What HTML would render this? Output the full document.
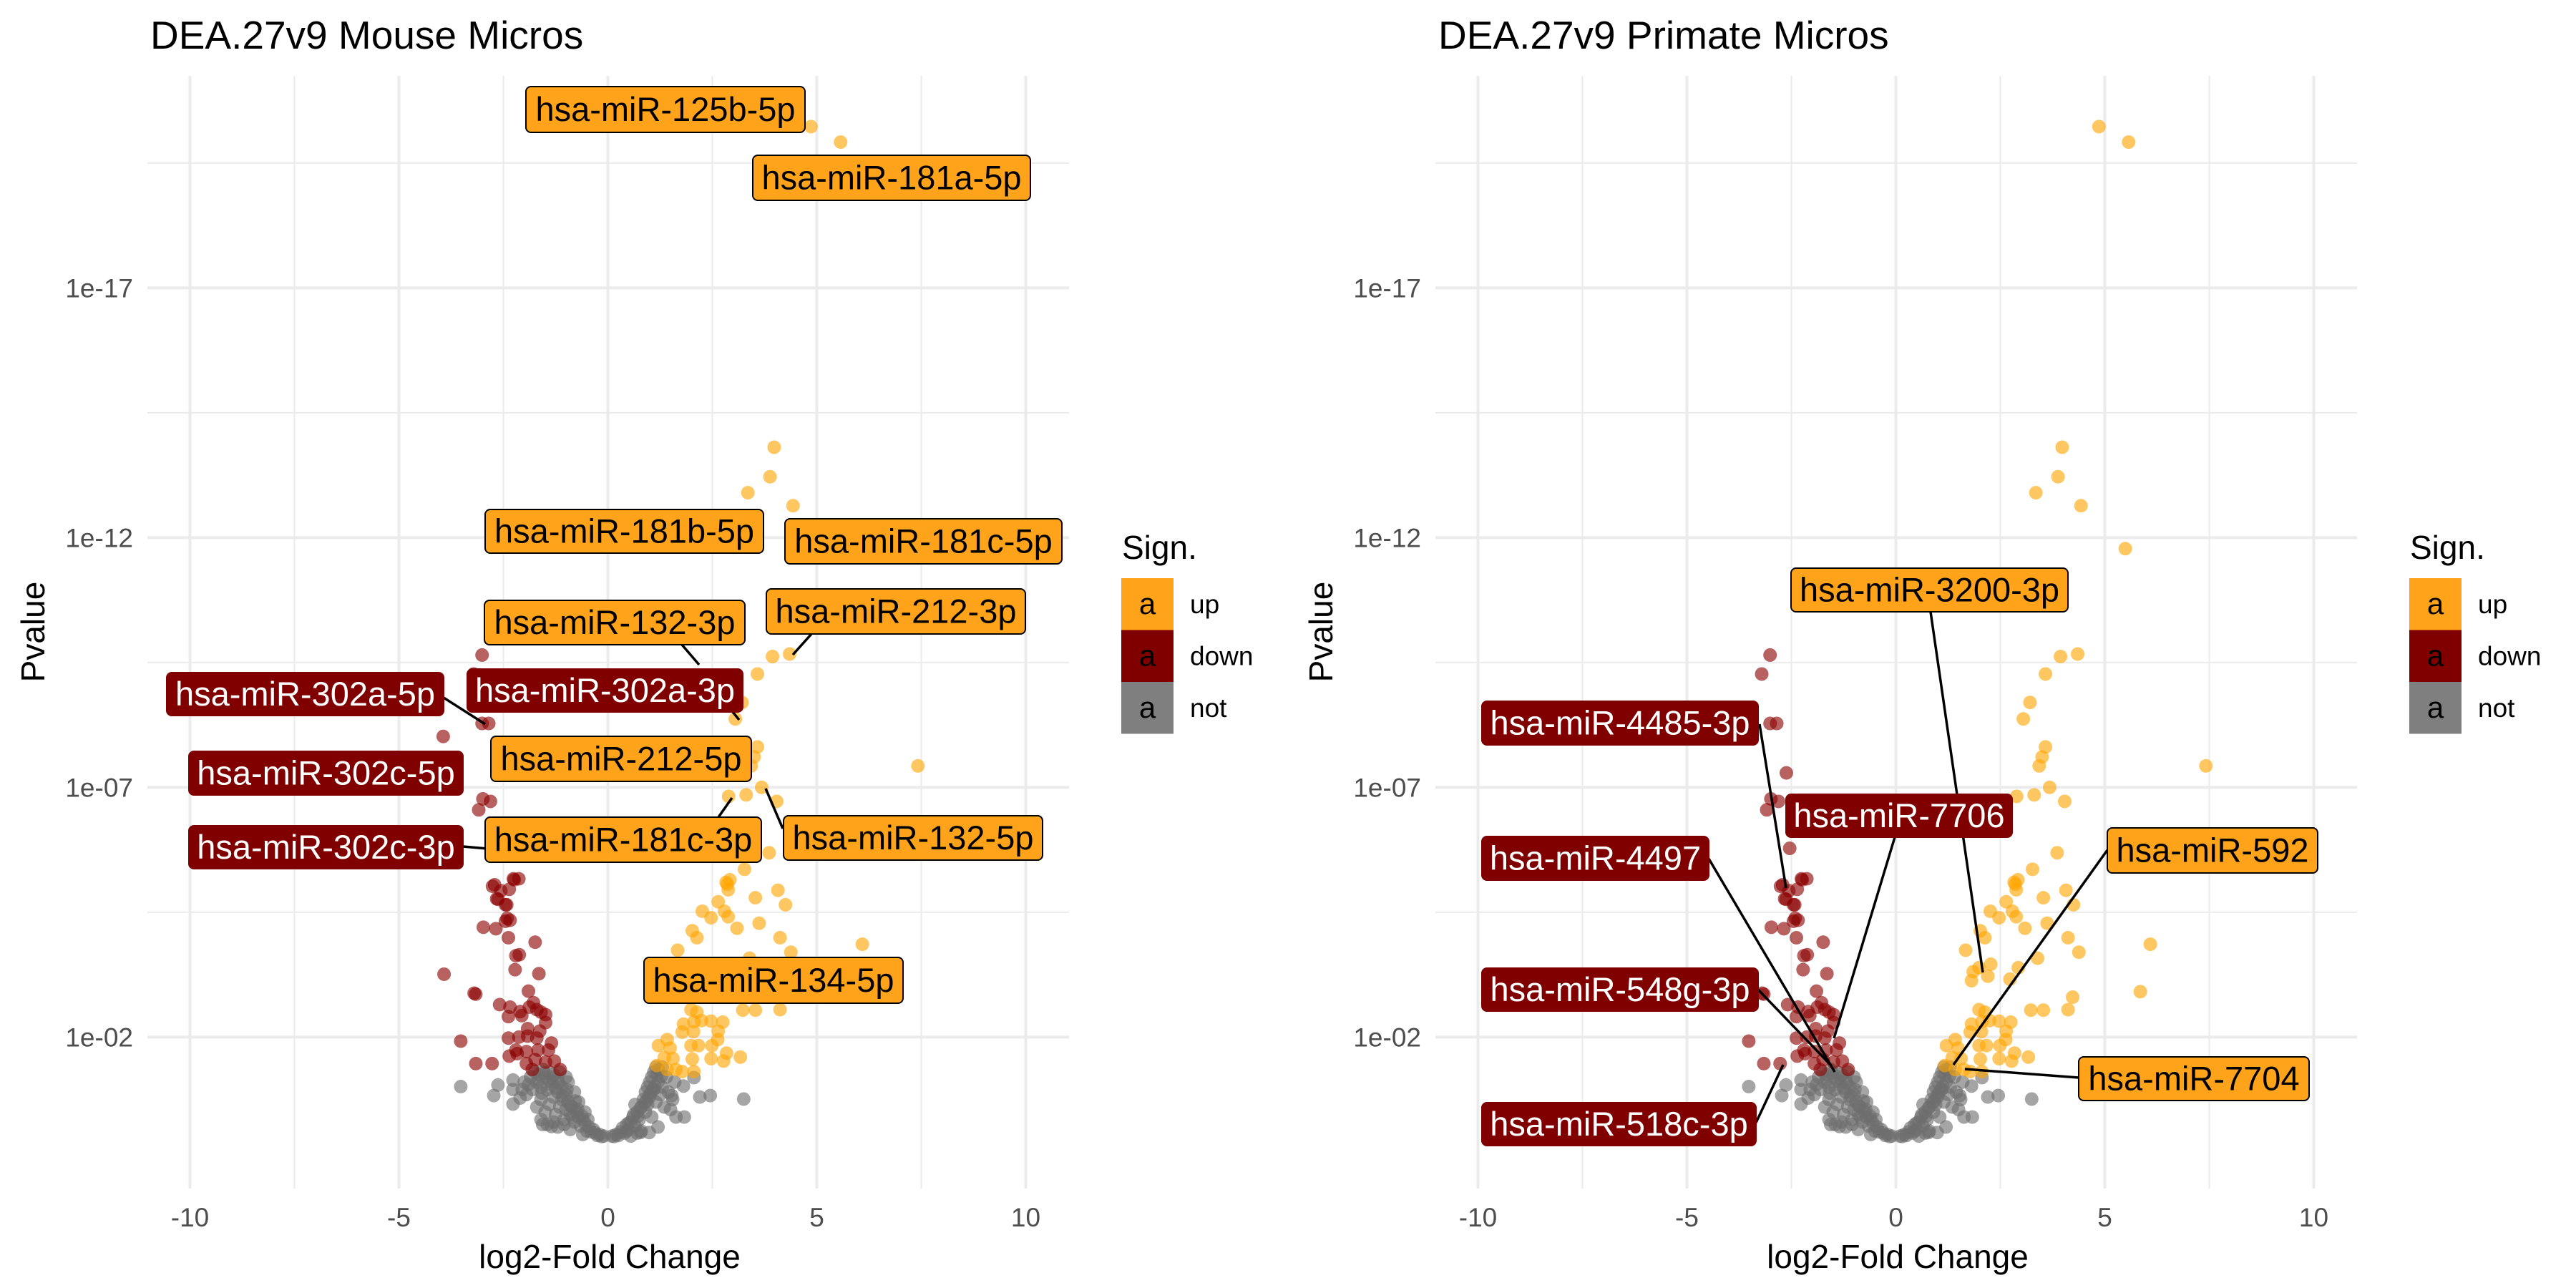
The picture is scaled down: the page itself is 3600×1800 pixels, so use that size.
<!DOCTYPE html>
<html><head><meta charset="utf-8">
<style>
html,body{margin:0;padding:0;background:#fff;}
svg{display:block;font-family:"Liberation Sans",sans-serif;}
</style></head>
<body>
<svg id="chart" width="3600" height="1800" viewBox="0 0 3600 1800" xmlns="http://www.w3.org/2000/svg"></svg>
<script>
// ---- data (log2FC, -log10 p) ----
const upX = [4.86,5.57,3.98,3.88,3.35,4.43,5.49,3.94,4.35,3.58,3.21,3.05,3.58,3.50,3.43,7.42,3.68,4.04,3.31,2.89,3.86,3.27,2.83,2.92,2.86,2.88,4.07,3.53,4.25,2.26,2.64,2.79,2.47,2.88,3.09,3.62,2.02,2.13,4.12,6.09,1.67,4.38,3.39,1.85,1.99,2.20,1.81,2.27,2.93,2.73,4.23,5.85,1.99,2.13,3.23,3.53,4.12,1.81,2.06,2.24,2.47,2.75,1.78,2.05,2.64,2.63,1.42,1.21,1.49,1.99,2.17,2.49,1.35,1.56,2.02,2.47,2.77,2.84,3.17,1.17,1.42,1.63,1.78,2.06];
const upL = [20.23,19.92,13.81,13.22,12.90,12.64,11.78,9.62,9.67,9.27,8.70,8.37,7.81,7.61,7.43,7.43,7.00,6.72,6.85,6.82,5.69,5.36,5.10,5.15,5.06,4.95,4.94,4.79,4.65,4.52,4.71,4.52,4.39,4.41,4.18,4.28,4.13,3.99,3.99,3.86,3.74,3.70,3.58,3.31,3.39,3.22,3.13,3.46,3.39,3.16,2.80,2.91,2.55,2.50,2.54,2.54,2.55,2.26,2.31,2.33,2.32,2.30,2.10,2.11,2.12,1.95,1.95,1.83,1.78,1.83,1.83,1.83,1.59,1.57,1.56,1.57,1.52,1.68,1.60,1.43,1.35,1.35,1.31,1.31];
const downX = [-3.01,-3.21,-2.85,-3.01,-3.94,-2.62,-2.99,-2.81,-3.09,-2.54,-2.76,-2.66,-2.42,-2.26,-2.13,-2.24,-2.71,-2.56,-2.36,-2.63,-2.45,-2.41,-2.34,-2.45,-2.98,-2.68,-2.38,-1.74,-2.20,-2.12,-2.22,-1.65,-3.92,-3.20,-3.16,-1.90,-2.59,-2.34,-2.10,-1.78,-1.70,-1.60,-1.88,-2.38,-2.06,-1.49,-1.92,-1.49,-1.63,-2.38,-2.13,-1.92,-1.70,-1.35,-3.52,-2.20,-1.95,-1.67,-1.42,-2.36,-2.17,-3.16,-2.77,-1.95,-1.74,-1.28,-1.14,-1.49,-1.81];
const downL = [9.65,9.27,8.28,8.28,8.02,7.29,6.77,6.72,6.55,5.78,5.02,4.77,4.65,5.17,5.17,5.15,5.05,4.93,4.96,4.76,4.65,4.38,4.34,4.32,4.20,4.17,3.99,3.90,3.63,3.65,3.35,3.27,3.26,2.88,2.86,2.92,2.65,2.60,2.51,2.69,2.55,2.50,2.60,2.41,2.43,2.45,2.17,2.29,2.12,1.98,2.00,2.02,1.98,1.88,1.92,1.74,1.71,1.74,1.74,1.62,1.67,1.47,1.47,1.47,1.55,1.52,1.35,1.50,1.35];
const notX = [-3.52,-2.63,-2.73,-2.27,-2.27,-2.10,-2.27,-1.60,-1.56,-1.35,1.81,2.06,2.20,2.45,3.25,1.63,1.83,1.53,0.99,0.78,
 -0.1,-0.2,-0.3,-0.35,-0.45,-0.5,-0.55,-0.6,-0.65,-0.7,-0.75,-0.8,-0.85,-0.9,-0.95,-1.0,-1.0,-1.05,-1.1,-1.1,-1.15,-1.2,-1.2,-1.25,-1.3,-1.3,-1.35,-1.4,-1.4,-1.45,-1.5,-1.5,-1.55,-1.6,-1.6,-1.65,-1.7,-1.7,-1.75,-1.8,-1.85,-1.9,-1.95,-2.0,-2.05,-1.2,-1.3,-0.9,-0.6,-1.0,-1.15,-0.95,-0.8,-0.7,-0.55,-1.45,-0.25,-0.4,-0.15,-1.05,-0.85,
 -0.62,-0.88,-1.08,-1.25,-1.38,-1.52,-1.65,-0.78,-0.98,-1.18,-1.33,-1.58,-0.48,-0.72,
 0.1,0.2,0.3,0.35,0.4,0.45,0.5,0.55,0.6,0.65,0.7,0.75,0.8,0.8,0.85,0.9,0.9,0.95,0.95,1.0,1.0,1.05,1.05,1.1,1.1,1.15,1.15,1.2,1.2,1.25,1.3,1.3,1.35,1.4,1.45,1.5,1.55,1.6,0.7,0.55,1.2,0.65,0.25,0.15,0.45,
 0.62,0.78,0.88,0.98,1.08,1.18,1.28,0.5,0.72,0.92,1.02,1.12];
const notL = [1.01,1.04,0.83,1.14,0.95,0.78,0.66,0.35,0.25,0.21,1.02,1.19,0.80,0.83,0.76,0.40,0.40,0.83,0.09,0.09,
 0.02,0.05,0.08,0.15,0.20,0.12,0.28,0.35,0.22,0.40,0.50,0.30,0.60,0.45,0.70,0.55,0.85,0.35,0.75,1.00,0.60,0.90,1.15,0.45,0.80,1.25,1.05,0.65,1.30,0.95,1.20,0.50,1.35,1.00,0.75,1.25,1.10,0.60,1.30,0.95,1.20,1.05,0.85,1.10,0.95,0.20,0.30,0.15,0.05,1.20,1.30,1.10,0.90,0.70,0.50,0.25,0.03,0.10,0.01,0.25,0.40,
 0.42,0.62,0.82,0.98,1.12,1.28,1.15,0.72,0.95,1.08,1.18,0.88,0.35,0.55,
 0.02,0.05,0.10,0.18,0.08,0.25,0.15,0.30,0.40,0.22,0.50,0.35,0.60,0.12,0.75,0.50,0.90,1.00,0.65,1.10,0.80,1.20,0.40,1.30,0.95,1.40,0.70,1.35,1.10,0.85,1.40,1.00,0.60,1.20,0.90,0.55,0.75,1.10,0.08,0.02,0.20,0.65,0.03,0.01,0.12,
 0.45,0.58,0.68,0.82,0.95,1.25,1.22,0.28,0.42,0.72,0.88,1.02];
const xTicks = [-10,-5,0,5,10];
const xTickLabels = ["-10","-5","0","5","10"];
const yTicks = [2,7,12,17];
const yTickLabels = ["1e-02","1e-07","1e-12","1e-17"];

const NS = "http://www.w3.org/2000/svg";
const svg = document.getElementById('chart');
function mk(tag, attrs, parent, text){
  const e = document.createElementNS(NS, tag);
  for (const k in attrs) e.setAttribute(k, attrs[k]);
  if (text !== undefined) e.textContent = text;
  (parent||svg).appendChild(e);
  return e;
}
const PX0=849.5, PXU=58.4, PY0=1589, PYU=69.8;
function sx(off, x){ return off + PX0 + x*PXU; }
function sy(L){ return PY0 - L*PYU; }

function panel(off, title, labels){
  const g = mk('g', {});
  
  
  [-7.5,-2.5,2.5,7.5].forEach(v=>{
    const l = mk('line',{x1:sx(off,v),x2:sx(off,v),y1:106,y2:1661,stroke:'#ebebeb','stroke-width':2},g);
     
  });
  [4.5,9.5,14.5,19.5].forEach(v=>{
    const l = mk('line',{x1:off+206,x2:off+1494,y1:sy(v),y2:sy(v),stroke:'#ebebeb','stroke-width':2},g);
     
  });
  xTicks.forEach((v,i)=>{
    const l = mk('line',{x1:sx(off,v),x2:sx(off,v),y1:106,y2:1661,stroke:'#ebebeb','stroke-width':4},g);
     
    const t = mk('text',{x:sx(off,v),y:1714,'font-size':37,fill:'#4d4d4d','text-anchor':'middle'},g,xTickLabels[i]);
     
  });
  yTicks.forEach((v,i)=>{
    const l = mk('line',{x1:off+206,x2:off+1494,y1:sy(v),y2:sy(v),stroke:'#ebebeb','stroke-width':4},g);
     
    const t = mk('text',{x:off+186,y:sy(v)+13,'font-size':37,fill:'#4d4d4d','text-anchor':'end'},g,yTickLabels[i]);
     
  });
  function pts(X,L,color,name){
    X.forEach((x,i)=>{
      const c = mk('circle',{cx:sx(off,x),cy:sy(L[i]),r:9.5,fill:color,'fill-opacity':0.62},g);
      
      
    });
  }
  pts(notX,notL,'#6e6e6e','point-not');
  pts(downX,downL,'#8b0000','point-down');
  pts(upX,upL,'#ffa500','point-up');
  labels.forEach(lb=>{
    if (lb.seg){
      const s = mk('line',{x1:off+lb.seg[0],y1:lb.seg[1],x2:off+lb.seg[2],y2:lb.seg[3],stroke:'#000','stroke-width':3.5},g);
       
    }
  });
  labels.forEach(lb=>{
    const up = lb.t==='u';
    const lg = mk('g',{},g);
    
    
    mk('rect',{x:off+lb.x0,y:lb.y0,width:lb.x1-lb.x0,height:lb.y1-lb.y0,rx:7,fill:up?'#ffa31a':'#800000',stroke:up?'#000':'#800000','stroke-width':2},lg);
    mk('text',{x:off+(lb.x0+lb.x1)/2,y:(lb.y0+lb.y1)/2+16,'font-size':47,fill:up?'#000':'#fff','text-anchor':'middle'},lg,lb.s);
  });
  const tt = mk('text',{x:off+210,y:68,'font-size':55,fill:'#000'},g,title);
   
  const xt = mk('text',{x:off+852,y:1772,'font-size':46,fill:'#000','text-anchor':'middle'},g,'log2-Fold Change');
   
  const yt = mk('text',{x:0,y:0,'font-size':46,fill:'#000','text-anchor':'middle',transform:`translate(${off+62},883) rotate(-90)`},g,'Pvalue');
   
  const lgd = mk('g',{},g);
   
  mk('text',{x:off+1568,y:781,'font-size':46,fill:'#000'},lgd,'Sign.');
  [['#ffa31a','up'],['#800000','down'],['#7f7f7f','not']].forEach((k,i)=>{
    const e = mk('g',{},lgd);
     
    mk('rect',{x:off+1567,y:808+i*72.5,width:73,height:72.5,fill:k[0]},e);
    mk('text',{x:off+1603.5,y:808+i*72.5+50,'font-size':42,fill:'#000','text-anchor':'middle'},e,'a');
    mk('text',{x:off+1663,y:808+i*72.5+49,'font-size':37,fill:'#000'},e,k[1]);
  });
}

const mouseLabels = [
 {s:'hsa-miR-125b-5p',t:'u',x0:735,x1:1125,y0:121,y1:185},
 {s:'hsa-miR-181a-5p',t:'u',x0:1052,x1:1440,y0:217,y1:280},
 {s:'hsa-miR-181b-5p',t:'u',x0:678,x1:1067,y0:712,y1:773},
 {s:'hsa-miR-181c-5p',t:'u',x0:1097,x1:1484,y0:725,y1:788},
 {s:'hsa-miR-132-3p',t:'u',x0:677,x1:1041,y0:839,y1:901,seg:[953,901,977,929]},
 {s:'hsa-miR-212-3p',t:'u',x0:1071,x1:1433,y0:823,y1:886,seg:[1134,886,1108,915]},
 {s:'hsa-miR-302a-5p',t:'d',x0:233,x1:620,y0:940,y1:1000,seg:[620,975,678,1012]},
 {s:'hsa-miR-302a-3p',t:'d',x0:653,x1:1038,y0:935,y1:995,seg:[1024,995,1033,1006]},
 {s:'hsa-miR-212-5p',t:'u',x0:686,x1:1050,y0:1029,y1:1092},
 {s:'hsa-miR-302c-5p',t:'d',x0:264,x1:647,y0:1050,y1:1111},
 {s:'hsa-miR-302c-3p',t:'d',x0:264,x1:647,y0:1154,y1:1214,seg:[647,1183,704,1188]},
 {s:'hsa-miR-181c-3p',t:'u',x0:678,x1:1064,y0:1142,y1:1205,seg:[1004,1142,1023,1115]},
 {s:'hsa-miR-132-5p',t:'u',x0:1095,x1:1457,y0:1140,y1:1202,seg:[1094,1158,1070,1102]},
 {s:'hsa-miR-134-5p',t:'u',x0:900,x1:1262,y0:1338,y1:1402}
];
const primateLabels = [
 {s:'hsa-miR-3200-3p',t:'u',x0:703,x1:1090,y0:794,y1:855,seg:[898,855,971,1359]},
 {s:'hsa-miR-4485-3p',t:'d',x0:271,x1:657,y0:980,y1:1041,seg:[659,1012,696,1241]},
 {s:'hsa-miR-7706',t:'d',x0:696,x1:1012,y0:1110,y1:1170,seg:[848,1170,763,1451]},
 {s:'hsa-miR-4497',t:'d',x0:271,x1:588,y0:1169,y1:1230,seg:[588,1200,764,1498]},
 {s:'hsa-miR-592',t:'u',x0:1145,x1:1439,y0:1157,y1:1220,seg:[1145,1188,930,1488]},
 {s:'hsa-miR-548g-3p',t:'d',x0:271,x1:657,y0:1353,y1:1413,seg:[657,1383,760,1490]},
 {s:'hsa-miR-518c-3p',t:'d',x0:271,x1:654,y0:1541,y1:1601,seg:[654,1569,692,1488]},
 {s:'hsa-miR-7704',t:'u',x0:1105,x1:1427,y0:1477,y1:1538,seg:[1105,1506,946,1494]}
];
panel(0,'DEA.27v9 Mouse Micros',mouseLabels);
panel(1800,'DEA.27v9 Primate Micros',primateLabels);
</script>
</body></html>
